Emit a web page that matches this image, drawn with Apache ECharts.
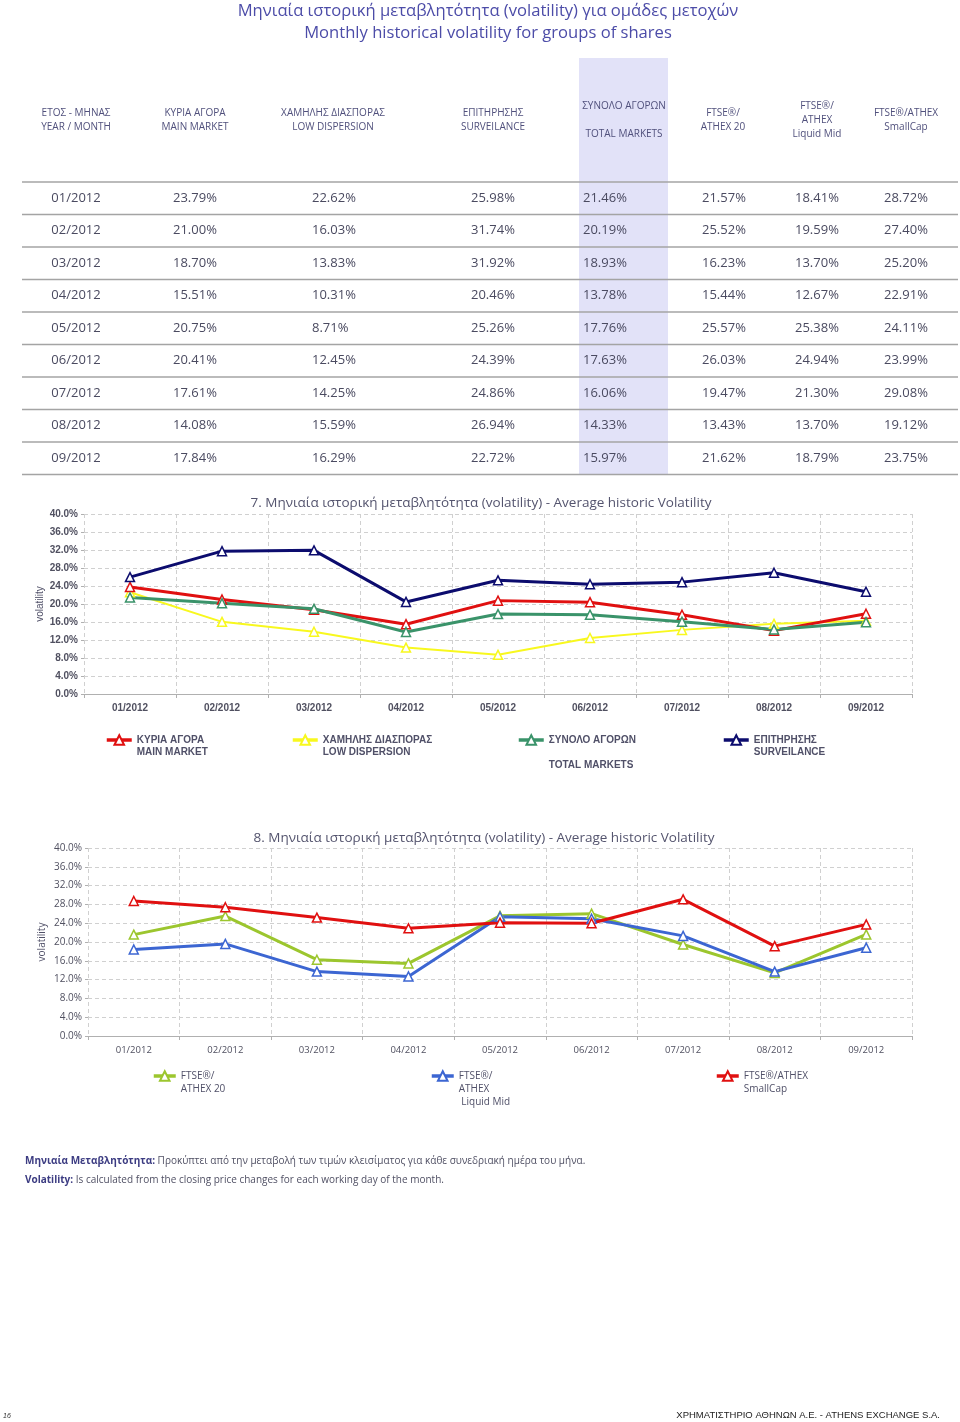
<!DOCTYPE html>
<html>
<head>
<meta charset="utf-8">
<script src="https://cdn.jsdelivr.net/npm/echarts@6/dist/echarts.min.js"></script>
<style>
html,body{margin:0;padding:0;background:#fff;}
#c{width:960px;height:1422px;}
</style>
</head>
<body>
<div id="c"></div>
<script>
// ---------- DATA ----------
const months = ['01/2012','02/2012','03/2012','04/2012','05/2012','06/2012','07/2012','08/2012','09/2012'];
const mainMarket    = [23.79, 21.00, 18.70, 15.51, 20.75, 20.41, 17.61, 14.08, 17.84];
const lowDispersion = [22.62, 16.03, 13.83, 10.31,  8.71, 12.45, 14.25, 15.59, 16.29];
const surveillance  = [25.98, 31.74, 31.92, 20.46, 25.26, 24.39, 24.86, 26.94, 22.72];
const totalMarkets  = [21.46, 20.19, 18.93, 13.78, 17.76, 17.63, 16.06, 14.33, 15.97];
const ftseAthex20   = [21.57, 25.52, 16.23, 15.44, 25.57, 26.03, 19.47, 13.43, 21.62];
const liquidMid     = [18.41, 19.59, 13.70, 12.67, 25.38, 24.94, 21.30, 13.70, 18.79];
const smallCap      = [28.72, 27.40, 25.20, 22.91, 24.11, 23.99, 29.08, 19.12, 23.75];
const tableHeaders = [
  'ΕΤΟΣ - ΜΗΝΑΣ\nYEAR / MONTH',
  'ΚΥΡΙΑ ΑΓΟΡΑ\nMAIN MARKET',
  'ΧΑΜΗΛΗΣ ΔΙΑΣΠΟΡΑΣ\nLOW DISPERSION',
  'ΕΠΙΤΗΡΗΣΗΣ\nSURVEILANCE',
  'ΣΥΝΟΛΟ ΑΓΟΡΩΝ\n\nTOTAL MARKETS',
  'FTSE®/\nATHEX 20',
  'FTSE®/\nATHEX\nLiquid Mid',
  'FTSE®/ATHEX\nSmallCap'
];
const tableColumns = [mainMarket, lowDispersion, surveillance, totalMarkets, ftseAthex20, liquidMid, smallCap];
const legend7Labels = ['ΚΥΡΙΑ ΑΓΟΡΑ\nMAIN MARKET','ΧΑΜΗΛΗΣ ΔΙΑΣΠΟΡΑΣ\nLOW DISPERSION','ΣΥΝΟΛΟ ΑΓΟΡΩΝ\n\nTOTAL MARKETS','ΕΠΙΤΗΡΗΣΗΣ\nSURVEILANCE'];
const legend8Labels = ['FTSE®/\nATHEX 20','FTSE®/\nATHEX\n Liquid Mid','FTSE®/ATHEX\nSmallCap'];
const title7 = '7. Μηνιαία ιστορική μεταβλητότητα (volatility) - Average historic Volatility';
const title8 = '8. Μηνιαία ιστορική μεταβλητότητα (volatility) - Average historic Volatility';

// ---------- LAYOUT / STYLE ----------
const OS = "'Open Sans', 'Noto Sans', sans-serif";
const AR = "'Liberation Sans', Arial, sans-serif";
const headerX = [76, 195, 333, 493, 624, 723, 817, 906];
const valueX  = [173, 312, 471, 583, 702, 795, 884];
const rowY0 = 198, rowStep = 32.5;
const lineY0 = 182;

const graphics = [];
graphics.push({type:'rect', shape:{x:579, y:58, width:89, height:417}, style:{fill:'#e2e2f8'}, silent:true, z:0});
for (let i = 0; i <= months.length; i++) {
  const y = lineY0 + i * rowStep;
  graphics.push({type:'line', shape:{x1:22, y1:y, x2:958, y2:y}, style:{stroke:'#a4a4a4', lineWidth:1.5}, silent:true, z:1});
}
tableHeaders.forEach((h, i) => {
  graphics.push({type:'text', x:headerX[i], y:120, silent:true, z:2,
    style:{text:h, align:'center', verticalAlign:'middle', fontFamily:OS, fontSize:10, lineHeight:14, fill:'#50507c'}});
});
months.forEach((m, r) => {
  const y = rowY0 + r * rowStep;
  graphics.push({type:'text', x:headerX[0], y:y, silent:true, z:2,
    style:{text:m, align:'center', verticalAlign:'middle', fontFamily:OS, fontSize:13, fill:'#4a4a60'}});
  tableColumns.forEach((col, c) => {
    graphics.push({type:'text', x:valueX[c], y:y, silent:true, z:2,
      style:{text:col[r].toFixed(2) + '%', align:'left', verticalAlign:'middle', fontFamily:OS, fontSize:13, fill:'#4a4a60'}});
  });
});
// footnote
graphics.push({type:'text', x:25, y:1161, silent:true, style:{
  text:'{b|Μηνιαία Μεταβλητότητα:} Προκύπτει από την μεταβολή των τιμών κλεισίματος για κάθε συνεδριακή ημέρα του μήνα.',
  verticalAlign:'middle', fontFamily:OS, fontSize:10, fill:'#505064',
  rich:{b:{fontFamily:OS, fontSize:10, fontWeight:'bold', fill:'#3c3c82'}}}});
graphics.push({type:'text', x:25, y:1180, silent:true, style:{
  text:'{b|Volatility:} Is calculated from the closing price changes for each working day of the month.',
  verticalAlign:'middle', fontFamily:OS, fontSize:10, fill:'#505064',
  rich:{b:{fontFamily:OS, fontSize:10, fontWeight:'bold', fill:'#3c3c82'}}}});
// footer
graphics.push({type:'text', x:3, y:1416, silent:true, style:{text:'16', verticalAlign:'middle', fontFamily:AR, fontSize:7, fontStyle:'italic', fill:'#333'}});
graphics.push({type:'text', x:940, y:1415, silent:true, style:{text:'ΧΡΗΜΑΤΙΣΤΗΡΙΟ ΑΘΗΝΩΝ Α.Ε. - ATHENS EXCHANGE S.A.', align:'right', verticalAlign:'middle', fontFamily:AR, fontSize:9.5, fill:'#222'}});

// legend: text block is centred on the icon, so blank lines are prepended
// to put the first real line level with the icon
function legendFor(name, label, left, iconY, st) {
  const n = label.split('\n').length;
  const L = st.lineHeight;
  const half = (2 * n - 1) * L / 2;
  const padded = ' \n'.repeat(n - 1) + label;
  return {
    data:[name], left:left, top:iconY - half, padding:0, itemWidth:st.itemWidth, itemHeight:12,
    formatter:() => padded, selectedMode:false,
    lineStyle:{width:3.5},
    textStyle:{fontFamily:st.font, fontSize:10, fontWeight:st.weight, color:'#505068', lineHeight:L}
  };
}
const lg7 = {lineHeight:12.5, itemWidth:25, font:AR, weight:'bold'};
const lg8 = {lineHeight:13, itemWidth:22, font:OS, weight:'normal'};

function xAxisFor(gi, font, weight, size) {
  return {type:'category', gridIndex:gi, data:months, boundaryGap:true,
    axisLine:{show:true, lineStyle:{color:'#b0b0b0', width:1}},
    axisTick:{show:true, length:4, lineStyle:{color:'#b0b0b0'}},
    axisLabel:{margin:9, fontFamily:font, fontWeight:weight, fontSize:size, color:'#505060'},
    splitLine:{show:true, lineStyle:{color:'#d0d0d0', type:[4,3]}}};
}
function yAxisFor(gi, font, weight, size, gap) {
  return {type:'value', gridIndex:gi, min:0, max:40, interval:4,
    name:'volatility', nameLocation:'middle', nameGap:gap, nameRotate:90, nameMoveOverlap:false,
    nameTextStyle:{fontFamily:font, fontSize:10, color:'#505068'},
    axisLine:{show:false}, axisTick:{show:true, length:3, lineStyle:{color:'#b0b0b0'}},
    axisLabel:{margin:6, fontFamily:font, fontWeight:weight, fontSize:size, color:'#505060', formatter:v => v.toFixed(1) + '%'},
    splitLine:{show:true, lineStyle:{color:'#d0d0d0', type:[4,3]}}};
}
function lineSeries(name, data, color, width, gi) {
  return {type:'line', name:name, data:data, xAxisIndex:gi, yAxisIndex:gi,
    symbol:'triangle', symbolSize:9, showAllSymbol:true,
    lineStyle:{color:color, width:width}, itemStyle:{color:'#ffffff', borderColor:color, borderWidth:1.5},
    emphasis:{disabled:true}};
}

const C = {red:'#e01010', yellow:'#f8f81e', green:'#3a936a', navy:'#0c0c6e', lime:'#9cc62e', blue:'#3c66d2'};

const option = {
  animation:false,
  backgroundColor:'#ffffff',
  title:[
    {text:'Μηνιαία ιστορική μεταβλητότητα (volatility) για ομάδες μετοχών\nMonthly historical volatility for groups of shares',
     left:488, top:0, padding:0, textAlign:'center',
     textStyle:{fontFamily:OS, fontSize:16.6, fontWeight:'normal', lineHeight:22, color:'#4c4ca8'}},
    {text:title7, left:481, top:495, padding:0, textAlign:'center',
     textStyle:{fontFamily:OS, fontSize:13.5, fontWeight:'normal', lineHeight:16, color:'#54546e'}},
    {text:title8, left:484, top:830, padding:0, textAlign:'center',
     textStyle:{fontFamily:OS, fontSize:13.5, fontWeight:'normal', lineHeight:16, color:'#54546e'}}
  ],
  grid:[
    {left:84, right:48, top:514, height:180, containLabel:false},
    {left:88, right:48, top:848, height:188, containLabel:false}
  ],
  xAxis:[xAxisFor(0, AR, 'bold', 10), xAxisFor(1, OS, 'normal', 9.5)],
  yAxis:[yAxisFor(0, AR, 'bold', 10, 39), yAxisFor(1, OS, 'normal', 10, 41)],
  legend:[
    legendFor('ΚΥΡΙΑ ΑΓΟΡΑ', legend7Labels[0], 105, 740, lg7),
    legendFor('ΧΑΜΗΛΗΣ ΔΙΑΣΠΟΡΑΣ', legend7Labels[1], 291, 740, lg7),
    legendFor('ΣΥΝΟΛΟ ΑΓΟΡΩΝ', legend7Labels[2], 517, 740, lg7),
    legendFor('ΕΠΙΤΗΡΗΣΗΣ', legend7Labels[3], 722, 740, lg7),
    legendFor('FTSE®/ATHEX 20', legend8Labels[0], 152, 1076, lg8),
    legendFor('FTSE®/ATHEX Liquid Mid', legend8Labels[1], 430, 1076, lg8),
    legendFor('FTSE®/ATHEX SmallCap', legend8Labels[2], 715, 1076, lg8)
  ],
  series:[
    lineSeries('ΧΑΜΗΛΗΣ ΔΙΑΣΠΟΡΑΣ', lowDispersion, C.yellow, 2, 0),
    lineSeries('ΚΥΡΙΑ ΑΓΟΡΑ', mainMarket, C.red, 3, 0),
    lineSeries('ΣΥΝΟΛΟ ΑΓΟΡΩΝ', totalMarkets, C.green, 3, 0),
    lineSeries('ΕΠΙΤΗΡΗΣΗΣ', surveillance, C.navy, 3, 0),
    lineSeries('FTSE®/ATHEX 20', ftseAthex20, C.lime, 3, 1),
    lineSeries('FTSE®/ATHEX Liquid Mid', liquidMid, C.blue, 3, 1),
    lineSeries('FTSE®/ATHEX SmallCap', smallCap, C.red, 3, 1)
  ],
  graphic:graphics
};
const chart = echarts.init(document.getElementById('c'));
chart.setOption(option);
</script>
</body>
</html>
